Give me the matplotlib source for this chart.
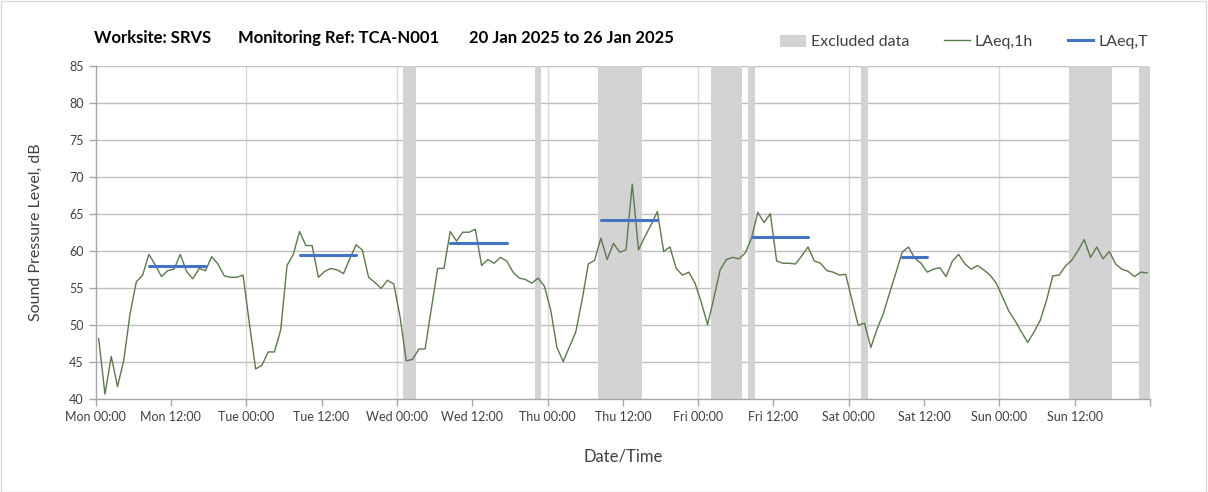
"""Noise monitoring chart: hourly LAeq with excluded periods and daytime LAeq,T."""
import matplotlib
matplotlib.use("Agg")
import matplotlib.pyplot as plt
import matplotlib.patches as mpatches
from matplotlib.lines import Line2D
import pandas as pd

plt.rcParams.update({
    "font.family": ["Lato", "DejaVu Sans"],
    "font.size": 9,
})

# ── Data ──
START = "2025-01-20 00:30"
LAEQ_1H = [
    # Mon
    48.1, 40.6, 45.7, 41.6, 45.2, 51.5, 55.8, 56.7, 59.5, 58.1, 56.5, 57.3,
    57.5, 59.5, 57.2, 56.2, 57.6, 57.3, 59.2, 58.2, 56.6, 56.4, 56.4, 56.7,
    # Tue
    50.2, 44.0, 44.5, 46.3, 46.3, 49.3, 58.0, 59.5, 62.6, 60.7, 60.7, 56.4,
    57.2, 57.6, 57.4, 56.9, 58.9, 60.8, 60.1, 56.4, 55.7, 54.9, 56.0, 55.5,
    # Wed
    51.1, 45.1, 45.3, 46.7, 46.7, 52.2, 57.6, 57.6, 62.6, 61.3, 62.5, 62.5,
    62.9, 58.0, 58.8, 58.3, 59.1, 58.6, 57.1, 56.3, 56.1, 55.6, 56.3, 55.2,
    # Thu
    52.0, 46.9, 45.0, 47.0, 49.0, 53.3, 58.2, 58.7, 61.7, 58.8, 61.0, 59.8,
    60.1, 69.0, 60.1, 61.9, 63.5, 65.3, 59.9, 60.5, 57.6, 56.7, 57.1, 55.6,
    # Fri
    53.0, 50.0, 53.6, 57.4, 58.8, 59.1, 58.9, 59.7, 61.7, 65.2, 63.8, 65.0,
    58.6, 58.3, 58.3, 58.2, 59.3, 60.5, 58.6, 58.3, 57.3, 57.1, 56.7, 56.8,
    # Sat
    53.3, 49.9, 50.2, 46.9, 49.4, 51.5, 54.3, 57.0, 59.8, 60.5, 59.0, 58.3,
    57.1, 57.5, 57.7, 56.5, 58.6, 59.5, 58.2, 57.5, 58.0, 57.4, 56.7, 55.6,
    # Sun
    53.7, 51.8, 50.5, 49.0, 47.6, 49.0, 50.6, 53.3, 56.6, 56.7, 57.9, 58.7,
    60.0, 61.5, 59.1, 60.5, 58.9, 59.9, 58.2, 57.5, 57.2, 56.5, 57.1, 57.0,
]

EXCL_START = ["2025-01-22 01:00", "2025-01-22 22:00", "2025-01-23 08:00",
              "2025-01-24 02:00", "2025-01-24 08:00", "2025-01-25 02:00",
              "2025-01-26 11:00", "2025-01-26 22:15"]
EXCL_END = ["2025-01-22 03:00", "2025-01-22 23:00", "2025-01-23 15:00",
            "2025-01-24 07:00", "2025-01-24 09:00", "2025-01-25 03:00",
            "2025-01-26 18:00", "2025-01-27 00:00"]

T_START = ["2025-01-20 08:30", "2025-01-21 08:30", "2025-01-22 08:30",
           "2025-01-23 08:30", "2025-01-24 08:30", "2025-01-25 08:30"]
T_END = ["2025-01-20 17:30", "2025-01-21 17:30", "2025-01-22 17:30",
         "2025-01-23 17:30", "2025-01-24 17:30", "2025-01-25 12:30"]
LAEQ_T = [57.9, 59.4, 61.0, 64.1, 61.8, 59.1]

# ── Colours ──
C_LINE = "#5b7a4b"
C_T = "#4472c4"
C_EXCL = "#d3d3d3"
C_GRID_H = "#bfbfbf"
C_GRID_V = "#d9d9d9"
C_AXIS = "#a6a6a6"
C_TEXT = "#404040"

times = pd.date_range(START, periods=len(LAEQ_1H), freq="h")

fig = plt.figure(figsize=(12.08, 4.92), dpi=100)
ax = fig.add_axes([0.0791, 0.190, 0.873, 0.676])

for s, e in zip(EXCL_START, EXCL_END):
    ax.axvspan(pd.Timestamp(s), pd.Timestamp(e), color=C_EXCL, lw=0, zorder=1)

ax.plot(times, LAEQ_1H, color=C_LINE, lw=1.0, zorder=3)

for s, e, v in zip(T_START, T_END, LAEQ_T):
    ax.plot([pd.Timestamp(s), pd.Timestamp(e)], [v, v], color=C_T, lw=2.2,
            solid_capstyle="round", zorder=4)

# ── Axes ──
x0 = pd.Timestamp("2025-01-20 00:00")
x1 = pd.Timestamp("2025-01-27 00:00")
ax.set_xlim(x0, x1)
ax.set_ylim(40, 85)

ticks = pd.date_range(x0, x1, freq="12h")
ax.set_xticks(ticks)
ax.set_xticklabels([t.strftime("%a %H:%M") if t < x1 else "" for t in ticks])
ax.set_yticks(range(40, 86, 5))

for d in pd.date_range(x0, x1, freq="24h")[1:-1]:
    ax.axvline(d, color=C_GRID_V, lw=1.0, zorder=0.5)
for y in range(45, 86, 5):
    ax.axhline(y, color=C_GRID_H, lw=1.0, zorder=0.6)

for side in ["top", "right"]:
    ax.spines[side].set_visible(False)
for side in ["left", "bottom"]:
    ax.spines[side].set_color(C_AXIS)
    ax.spines[side].set_linewidth(1.0)
ax.tick_params(axis="both", colors=C_AXIS, labelcolor=C_TEXT, length=5,
               width=1.0, labelsize=9)
ax.tick_params(axis="x", pad=4)

ax.set_ylabel("Sound Pressure Level, dB", fontsize=11.5, color=C_TEXT, labelpad=19)
ax.set_xlabel("Date/Time", fontsize=12, color=C_TEXT, labelpad=18)

# ── Title ──
ty = 1 - 38 / 492
fig.text(94 / 1208, ty, "Worksite: SRVS", fontsize=12, fontweight="bold",
         va="center", ha="left")
fig.text(238 / 1208, ty, "Monitoring Ref: TCA-N001", fontsize=12,
         fontweight="bold", va="center", ha="left")
fig.text(469 / 1208, ty, "20 Jan 2025 to 26 Jan 2025", fontsize=12,
         fontweight="bold", va="center", ha="left")

# ── Legend ──
handles = [
    mpatches.Patch(facecolor=C_EXCL, edgecolor="none", label="Excluded data"),
    Line2D([], [], color=C_LINE, lw=1.0, label="LAeq,1h"),
    Line2D([], [], color=C_T, lw=2.2, label="LAeq,T"),
]
fig.legend(handles=handles, loc="center", bbox_to_anchor=(964 / 1208, 1 - 42 / 492),
           ncol=3, frameon=False, fontsize=11.5, handlelength=1.6,
           handleheight=0.8, handletextpad=0.3, columnspacing=2.2,
           labelcolor=C_TEXT)

# figure border
fig.add_artist(mpatches.Rectangle((0.001, 0.001), 0.997, 0.997,
                                  transform=fig.transFigure, fill=False,
                                  edgecolor="#d9d9d9", lw=1.0))

fig.savefig("out.png", dpi=100, facecolor="white")
plt.close(fig)
